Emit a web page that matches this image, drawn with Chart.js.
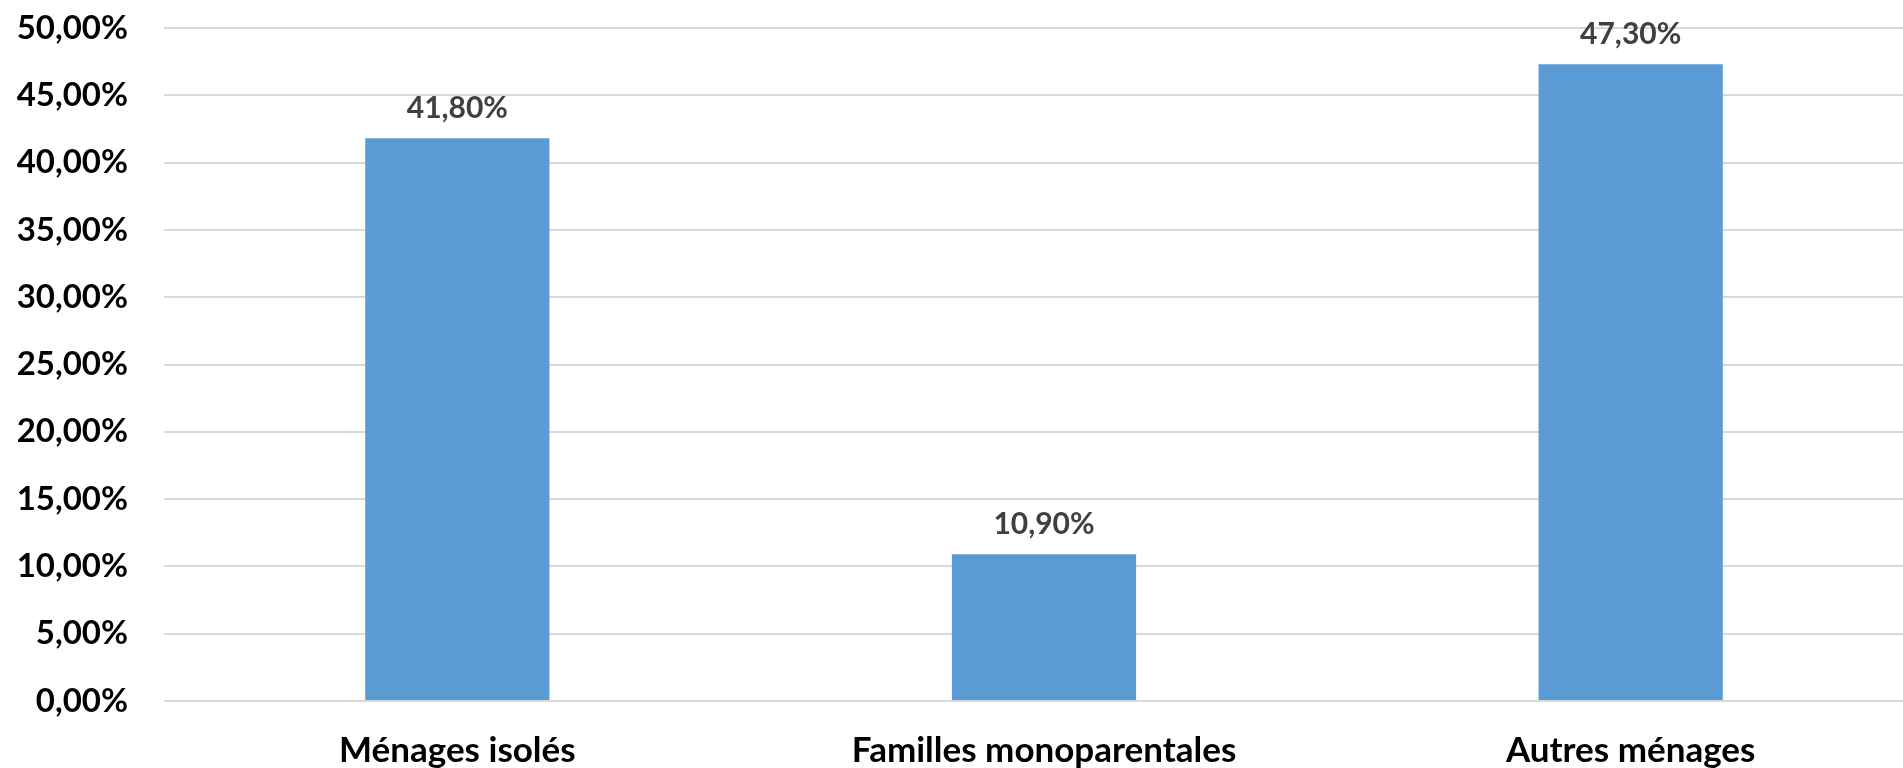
<!DOCTYPE html>
<html lang="fr">
<head>
<meta charset="utf-8">
<title>Répartition des ménages</title>
<script src="https://cdn.jsdelivr.net/npm/chart.js@4.4.1/dist/chart.umd.min.js"></script>
<style>
  html, body { margin: 0; padding: 0; background: #fff; overflow: hidden; }
  #chart { display: block; }
</style>
</head>
<body>
<canvas id="chart" width="1924" height="768"></canvas>
<script>
// données
const categories = ['Ménages isolés', 'Familles monoparentales', 'Autres ménages'];
const parts = [41.8, 10.9, 47.3];
const yTicks = [0, 5, 10, 15, 20, 25, 30, 35, 40, 45, 50];

const fmt = v => v.toFixed(2).replace('.', ',') + '%';
const FONT = 'Lato, "Open Sans", sans-serif';

// étiquettes de valeur au-dessus des barres
const valueLabels = {
  id: 'valueLabels',
  afterDatasetsDraw(chart) {
    const ctx = chart.ctx;
    const meta = chart.getDatasetMeta(0);
    ctx.save();
    ctx.font = 'bold 30px ' + FONT;
    ctx.fillStyle = '#404040';
    ctx.textAlign = 'center';
    ctx.textBaseline = 'middle';
    meta.data.forEach((bar, i) => {
      ctx.fillText(fmt(parts[i]), bar.x, bar.y - 30);
    });
    ctx.restore();
  }
};

new Chart(document.getElementById('chart').getContext('2d'), {
  type: 'bar',
  data: {
    labels: categories,
    datasets: [{
      data: parts,
      backgroundColor: '#5B9BD5',
      borderWidth: 0,
      barPercentage: 0.314,
      categoryPercentage: 1
    }]
  },
  options: {
    responsive: false,
    animation: false,
    layout: { padding: 0 },
    plugins: { legend: { display: false }, tooltip: { enabled: false } },
    scales: {
      x: {
        grid: { display: false },
        border: { display: false },
        ticks: { color: '#000', font: { family: FONT, size: 35, weight: 'bold' }, padding: 21, maxRotation: 0 },
        afterFit: s => { s.height = 67; s.paddingTop = 0; }
      },
      y: {
        min: 0,
        max: 50,
        afterBuildTicks: s => { s.ticks = yTicks.map(v => ({ value: v })); },
        grid: { color: '#D9D9D9', lineWidth: 2, drawTicks: false },
        border: { display: false },
        ticks: { color: '#000', font: { family: FONT, size: 33, weight: 'bold' }, padding: 36, callback: v => fmt(v) },
        afterFit: s => { s.width = 164; s.paddingTop = 28; s.paddingBottom = 0; }
      }
    }
  },
  plugins: [valueLabels]
});
</script>
</body>
</html>
